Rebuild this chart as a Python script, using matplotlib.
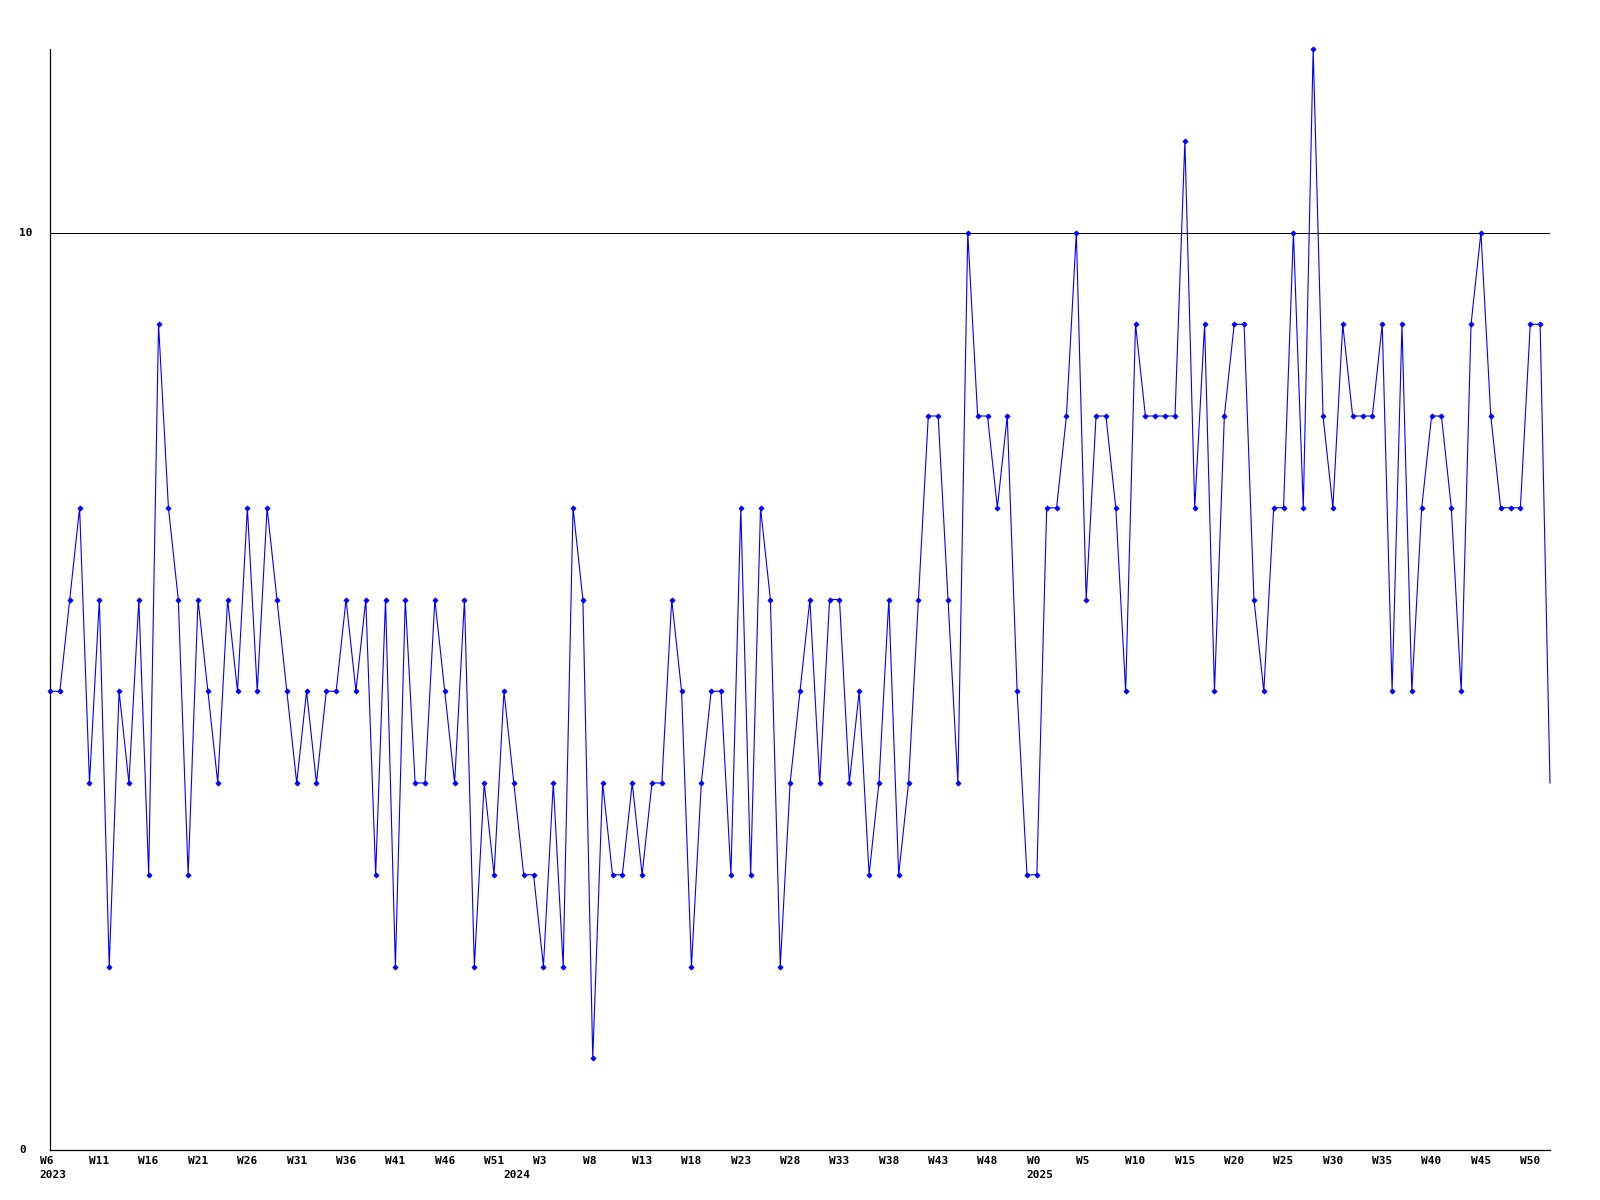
import matplotlib
matplotlib.use("Agg")
import matplotlib.pyplot as plt
import matplotlib.transforms as mtransforms
import numpy as np

# Weekly values (W6 2023 .. W52 2025)
values_2023 = [5, 5, 6, 7, 4, 6, 2, 5, 4, 6, 3, 9, 7, 6, 3, 6, 5, 4, 6, 5,
               7, 5, 7, 6, 5, 4, 5, 4, 5, 5, 6, 5, 6, 3, 6, 2, 6, 4, 4, 6,
               5, 4, 6, 2, 4, 3, 5]
values_2024 = [4, 3, 3, 2, 4, 2, 7, 6, 1, 4, 3, 3, 4, 3, 4, 4, 6, 5, 2, 4,
               5, 5, 3, 7, 3, 7, 6, 2, 4, 5, 6, 4, 6, 6, 4, 5, 3, 4, 6, 3,
               4, 6, 8, 8, 6, 4, 10, 8, 8, 7, 8, 5, 3]
values_2025 = [3, 7, 7, 8, 10, 6, 8, 8, 7, 5, 9, 8, 8, 8, 8, 11, 7, 9, 5, 8,
               9, 9, 6, 5, 7, 7, 10, 7, 12, 8, 7, 9, 8, 8, 8, 9, 5, 9, 5, 7,
               8, 8, 7, 5, 9, 10, 8, 7, 7, 7, 9, 9, 4]

weeks_2023 = list(range(6, 53))
weeks_2024 = list(range(0, 53))
weeks_2025 = list(range(0, 53))
years = ["2023", "2024", "2025"]

values = values_2023 + values_2024 + values_2025
week_labels = ["W%d" % w for w in weeks_2023 + weeks_2024 + weeks_2025]
year_of_point = ([years[0]] * len(weeks_2023) + [years[1]] * len(weeks_2024)
                 + [years[2]] * len(weeks_2025))
reference_level = 10

n = len(values)
x = np.arange(n)

W, H = 1600, 1200
fig = plt.figure(figsize=(16, 12), dpi=100)
fig.patch.set_facecolor("white")
ax = fig.add_axes([50 / W, 1 - 1150 / H, (1550 - 50) / W, (1150 - 49) / H])
ax.set_xlim(0, n - 1)
ax.set_ylim(0, 12)
for s in ["top", "right"]:
    ax.spines[s].set_visible(False)
for s in ["left", "bottom"]:
    ax.spines[s].set_color("black")
    ax.spines[s].set_linewidth(0.9)
ax.set_xticks([])
ax.set_yticks([])

ax.axhline(reference_level, color="black", lw=0.72, zorder=1)
ax.plot(x, values, color="#0000ff", lw=0.8, zorder=3, clip_on=False)
ax.plot(x[:-1], values[:-1], linestyle="none", marker="D", ms=2.6, mew=0.6,
        color="#0000ff", zorder=4, clip_on=False)

font = dict(family="DejaVu Sans Mono", weight="bold", size=8, color="black")
trans_x = mtransforms.blended_transform_factory(ax.transData, ax.transAxes)
off_w = mtransforms.ScaledTranslation(-10.2 / 100, -5.5 / 100, fig.dpi_scale_trans)
off_y = mtransforms.ScaledTranslation(-10.2 / 100, -20.5 / 100, fig.dpi_scale_trans)
for i in range(0, n, 5):
    ax.text(x[i], 0, week_labels[i], transform=trans_x + off_w,
            ha="left", va="top", **font)
prev = None
for i in range(n):
    if year_of_point[i] != prev:
        ax.text(x[i], 0, year_of_point[i], transform=trans_x + off_y,
                ha="left", va="top", **font)
        prev = year_of_point[i]

trans_y = mtransforms.blended_transform_factory(fig.transFigure, ax.transData)
for v in [0, reference_level]:
    ax.text(19.5 / W, v, str(v), transform=trans_y, ha="left", va="center",
            **font)

fig.savefig("out.png", dpi=100, facecolor="white")
